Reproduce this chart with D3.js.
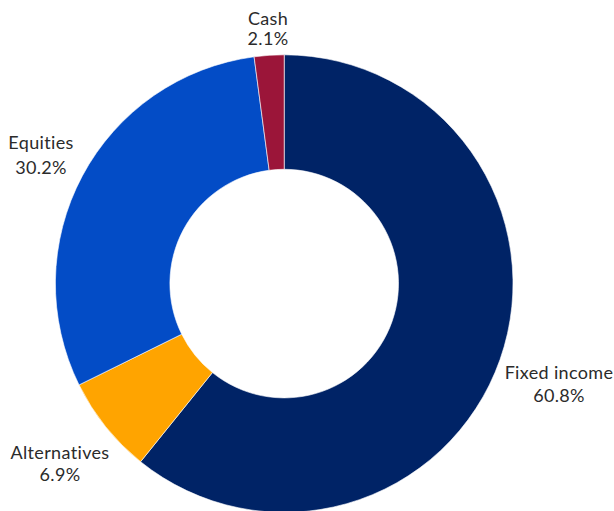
<!DOCTYPE html>
<html>
<head>
<meta charset="utf-8">
<script src="https://cdn.jsdelivr.net/npm/d3@7"></script>
<style>
  html, body { margin: 0; padding: 0; background: #fff; }
  svg { display: block; }
  text { font-family: Lato, "Noto Sans", sans-serif; fill: #2b2b2b; font-variant-ligatures: none; letter-spacing: 0.35px; }
</style>
</head>
<body>
<svg id="chart" width="614" height="511"></svg>
<script>
// Asset allocation, percent of portfolio
const categories = ["Fixed income", "Alternatives", "Equities", "Cash"];
const values = [60.8, 6.9, 30.2, 2.1];
const colors = ["#002366", "#FFA400", "#034CC6", "#9B1539"];

// Label layout: block centre x and baselines of the two lines
const labelLayout = {
  "Fixed income": { x: 559, y1: 379, y2: 402 },
  "Alternatives": { x: 60, y1: 459, y2: 481 },
  "Equities": { x: 41, y1: 149, y2: 174 },
  "Cash": { x: 268, y1: 25, y2: 45 }
};

const data = categories.map((c, i) => ({ name: c, value: values[i], color: colors[i] }));

const svg = d3.select("#chart");
const cx = 284.2, cy = 283.6, outerR = 228.8, innerR = 114.3;

const pie = d3.pie().value(d => d.value).sort(null);
const arc = d3.arc().innerRadius(innerR).outerRadius(outerR);

const g = svg.append("g").attr("transform", `translate(${cx},${cy})`);
g.selectAll("path")
  .data(pie(data))
  .join("path")
  .attr("d", arc)
  .attr("fill", d => d.data.color)
  .attr("stroke", "#ffffff")
  .attr("stroke-width", 0.6);

const labels = svg.append("g").attr("font-size", 18).attr("text-anchor", "middle");
data.forEach(d => {
  const l = labelLayout[d.name];
  const t = labels.append("text");
  t.append("tspan").attr("x", l.x).attr("y", l.y1).text(d.name);
  t.append("tspan").attr("x", l.x).attr("y", l.y2).text(d3.format(".1f")(d.value) + "%");
});
</script>
</body>
</html>
